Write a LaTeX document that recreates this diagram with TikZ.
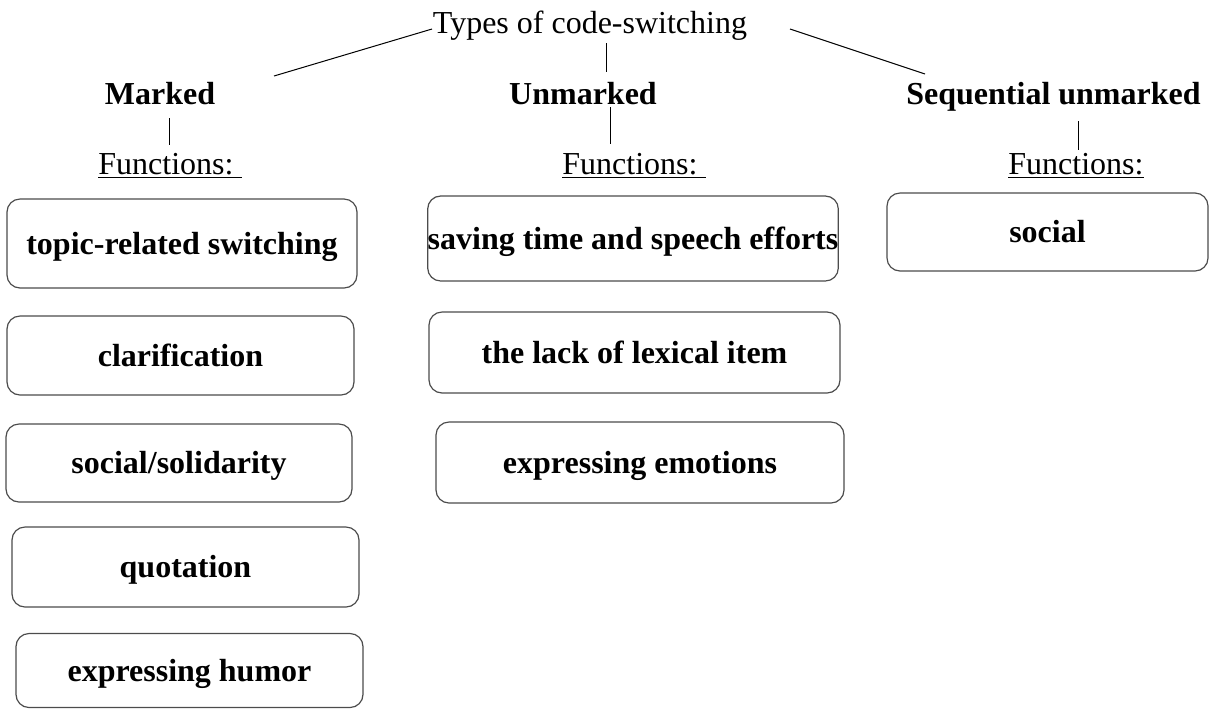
\documentclass[tikz,border=0pt]{standalone}
\usepackage{fontspec}
\setmainfont{Liberation Serif}
\usepackage{tikz}

\tikzset{
    fnbox/.style={draw=black!70, line width=0.6pt, rounded corners=6.5pt,
        font=\fontsize{16}{19}\selectfont\bfseries, text height=10.5pt, text depth=0pt},
    head/.style={anchor=base, font=\fontsize{16}{19}\selectfont\bfseries},
    fnlabel/.style={anchor=base west, font=\fontsize{16}{19}\selectfont},
    link/.style={black, line width=0.5pt}
}

\begin{document}
\begin{tikzpicture}[x=0.5pt,y=-0.5pt]
    \tikzstyle{every node}+=[inner sep=0pt]
    \useasboundingbox (0,0) rectangle (1209,709);

    % top
    \node [anchor=base, font=\fontsize{16}{19}\selectfont] (types) at (590,33) {Types of code-switching};

    % three kinds
    \node [head] (marked) at (160,104) {Marked};
    \node [head] (unmarked) at (583,104) {Unmarked};
    \node [head] (sequnm) at (1053.5,104) {Sequential unmarked};

    \node [fnlabel] (mfun) at (98,174) {\underline{Functions:\ }};
    \node [fnlabel] (ufun) at (562,174) {\underline{Functions:\ }};
    \node [fnlabel] (sfun) at (1008,174) {\underline{Functions:}};

    % line ends
    \coordinate (typesL) at (432,29);
    \coordinate (markedT) at (274,76);
    \coordinate (typesR) at (790,29);
    \coordinate (sequnmT) at (925,74);
    \coordinate (typesB) at (606,43);
    \coordinate (unmarkedT) at (606,72);
    \coordinate (markedB) at (169,118);
    \coordinate (mfunT) at (169,145);
    \coordinate (unmarkedB) at (610,107);
    \coordinate (ufunT) at (610,144);
    \coordinate (sequnmB) at (1078,121);
    \coordinate (sfunT) at (1078,150);

    \draw [link] (typesL) -- (markedT);
    \draw [link] (typesR) -- (sequnmT);
    \draw [link] (typesB) -- (unmarkedT);
    \draw [link] (markedB) -- (mfunT);
    \draw [link] (unmarkedB) -- (ufunT);
    \draw [link] (sequnmB) -- (sfunT);

    % marked functions
    \node [fnbox, minimum width=175pt, minimum height=44.5pt] (topic) at (182,243.5) {topic-related switching};
    \node [fnbox, minimum width=173.5pt, minimum height=39.5pt] (clarif) at (180.5,355.5) {clarification};
    \node [fnbox, minimum width=173pt, minimum height=39pt] (solid) at (179,463) {social/solidarity};
    \node [fnbox, minimum width=173.5pt, minimum height=40pt] (quot) at (185.5,567) {quotation};
    \node [fnbox, minimum width=173.5pt, minimum height=37pt] (humor) at (189.5,670.5) {expressing humor};

    % unmarked functions
    \node [fnbox, minimum width=205pt, minimum height=42.5pt] (saving) at (633,238.5) {saving time and speech efforts};
    \node [fnbox, minimum width=205.5pt, minimum height=40.5pt] (lexical) at (634.5,352.5) {the lack of lexical item};
    \node [fnbox, minimum width=204pt, minimum height=40.5pt] (emotions) at (640,462.5) {expressing emotions};

    % sequential unmarked functions
    \node [fnbox, minimum width=160.5pt, minimum height=39pt] (social) at (1047.5,232) {social};
\end{tikzpicture}
\end{document}
